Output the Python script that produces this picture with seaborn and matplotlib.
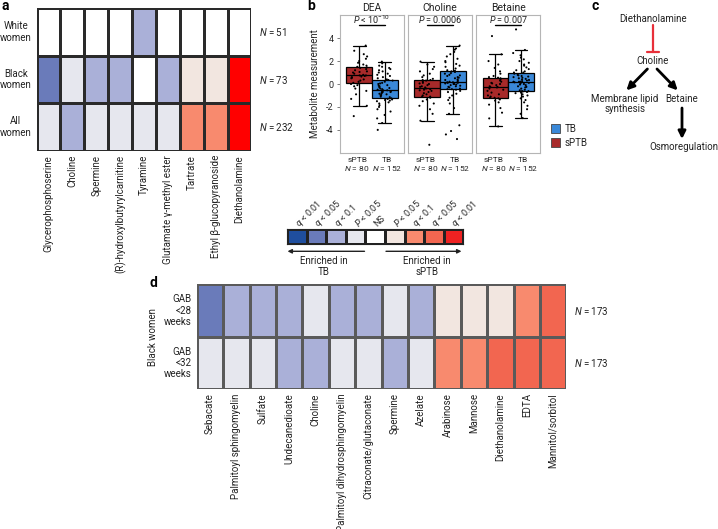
import numpy as np
import pandas as pd
import seaborn as sns
import matplotlib.pyplot as plt
from matplotlib.colors import ListedColormap
from matplotlib.patches import Patch

W, H = 718, 529

# significance levels shared by heatmaps and the key
levels = [r"$q$ < 0.01", r"$q$ < 0.05", r"$q$ < 0.1", r"$P$ < 0.05", "NS",
          r"$P$ < 0.05", r"$q$ < 0.1", r"$q$ < 0.05", r"$q$ < 0.01"]
level_codes = [-4, -3, -2, -1, 0, 1, 2, 3, 4]
level_colors = ["#1f4e9e", "#6a7bba", "#aab0d8", "#e6e7ee", "#ffffff",
                "#f2e6e0", "#f88a6e", "#f26650", "#ee2222"]

# panel a
a_metabolites = ["Glycerophosphoserine", "Choline", "Spermine",
                 "(R)-hydroxylbutyrylcarnitine", "Tyramine",
                 "Glutamate γ-methyl ester", "Tartrate",
                 "Ethyl β-glucopyranoside", "Diethanolamine"]
a_groups = ["White\nwomen", "Black\nwomen", "All\nwomen"]
a_white = [0, 0, 0, 0, -2, 0, 0, 0, 0]
a_black = [-3, -1, -2, -2, 0, -2, 1, 1, 4]
a_all = [-1, -2, -1, -1, -1, -1, 2, 2, 4]
a_n = [51, 73, 232]

# panel b
b_metabolites = ["DEA", "Choline", "Betaine"]
b_groups = ["sPTB", "TB"]
b_n = {"sPTB": 80, "TB": 152}
b_pvals = [r"$P$ < 10$^{-10}$", r"$P$ = 0.0006", r"$P$ = 0.007"]
dea_sptb = [-2.8, -1.9, -1.3, -0.9, -0.6, -0.4, -0.2, -0.1, 0.0, 0.05, 0.1, 0.2,
            0.3, 0.4, 0.5, 0.55, 0.6, 0.65, 0.7, 0.75, 0.75, 0.8, 0.9, 1.0, 1.05,
            1.1, 1.2, 1.3, 1.4, 1.45, 1.5, 1.6, 1.7, 1.85, 2.0, 2.2, 2.4, 2.6,
            2.9, 3.35]
dea_tb = [-4.0, -3.4, -3.0, -2.7, -2.4, -2.2, -2.0, -1.85, -1.7, -1.6, -1.5,
          -1.45, -1.4, -1.35, -1.3, -1.25, -1.15, -1.1, -1.0, -0.95, -0.9, -0.85,
          -0.8, -0.75, -0.7, -0.7, -0.65, -0.6, -0.6, -0.55, -0.55, -0.5, -0.45,
          -0.4, -0.35, -0.3, -0.2, -0.15, -0.1, 0.0, 0.05, 0.1, 0.2, 0.3, 0.35,
          0.4, 0.5, 0.6, 0.7, 0.8, 0.9, 1.0, 1.1, 1.2, 1.3, 1.4, 1.5, 1.6, 1.8,
          1.95]
cho_sptb = [-5.3, -3.2, -2.6, -2.2, -1.9, -1.7, -1.5, -1.35, -1.2, -1.1, -1.1,
            -1.0, -0.9, -0.8, -0.7, -0.6, -0.55, -0.5, -0.45, -0.4, -0.3, -0.25,
            -0.2, -0.1, 0.0, 0.05, 0.1, 0.2, 0.3, 0.35, 0.35, 0.45, 0.6, 0.75,
            0.9, 1.1, 1.3, 1.5, 1.7, 1.95]
cho_tb = [-4.8, -4.4, -4.1, -3.6, -2.6, -2.1, -1.7, -1.4, -1.2, -1.0, -0.85,
          -0.7, -0.6, -0.5, -0.45, -0.45, -0.4, -0.3, -0.25, -0.2, -0.15, -0.1,
          -0.05, 0.0, 0.0, 0.05, 0.1, 0.1, 0.15, 0.15, 0.2, 0.2, 0.3, 0.35, 0.4,
          0.5, 0.55, 0.6, 0.7, 0.75, 0.8, 0.9, 0.95, 1.05, 1.1, 1.15, 1.2, 1.35,
          1.5, 1.6, 1.75, 1.9, 2.0, 2.2, 2.4, 2.6, 2.8, 3.0, 3.1, 3.35]
bet_sptb = [-3.7, -3.0, -2.5, -2.1, -1.8, -1.6, -1.45, -1.35, -1.25, -1.2, -1.2,
            -1.1, -1.0, -0.9, -0.75, -0.6, -0.5, -0.4, -0.3, -0.26, -0.26, -0.2,
            -0.1, 0.0, 0.05, 0.1, 0.2, 0.3, 0.4, 0.5, 0.55, 0.6, 0.7, 0.9, 1.1,
            1.4, 1.7, 2.0, 2.59, 4.18]
bet_tb = [-2.97, -2.6, -2.2, -1.9, -1.6, -1.4, -1.25, -1.1, -1.0, -0.9, -0.8,
          -0.75, -0.7, -0.65, -0.62, -0.62, -0.55, -0.5, -0.4, -0.3, -0.25, -0.2,
          -0.1, -0.05, 0.0, 0.05, 0.1, 0.15, 0.2, 0.2, 0.2, 0.25, 0.3, 0.35, 0.4,
          0.45, 0.5, 0.55, 0.6, 0.65, 0.7, 0.75, 0.8, 0.9, 1.0, 1.0, 1.1, 1.2,
          1.3, 1.45, 1.6, 1.7, 1.85, 2.0, 2.15, 2.3, 2.5, 2.7, 2.97, 4.76]
box_colors = {"sPTB": "#a82a2a", "TB": "#3a88d8"}

# panel d
d_metabolites = ["Sebacate", "Palmitoyl sphingomyelin", "Sulfate",
                 "Undecanedioate", "Choline", "Palmitoyl dihydrosphingomyelin",
                 "Citraconate/glutaconate", "Spermine", "Azelate", "Arabinose",
                 "Mannose", "Diethanolamine", "EDTA", "Mannitol/sorbitol"]
d_rows = ["GAB\n<28\nweeks", "GAB\n<32\nweeks"]
d_gab28 = [-3, -2, -2, -2, -1, -2, -2, -1, -2, 1, 1, 1, 2, 3]
d_gab32 = [-1, -1, -1, -2, -2, -1, -1, -2, -1, 2, 2, 3, 3, 3]
d_n = [173, 173]

sns.set_theme(style="white")
plt.rcParams["font.family"] = ["Roboto", "DejaVu Sans"]
plt.rcParams["mathtext.fontset"] = "custom"
plt.rcParams["mathtext.rm"] = "Roboto"
plt.rcParams["mathtext.it"] = "Roboto:italic"
plt.rcParams["axes.unicode_minus"] = False
plt.rcParams["text.color"] = "#222222"


def px(x0, y0, x1, y1):
    return [x0 / W, 1 - y1 / H, (x1 - x0) / W, (y1 - y0) / H]


fig = plt.figure(figsize=(W / 100, H / 100), dpi=100)
cmap = ListedColormap(level_colors)
cmap_a = ListedColormap(level_colors[:-1] + ["#ff0000"])

# ---- a ----
ax_a = fig.add_axes(px(36.6, 8.4, 251.4, 150.8))
df_a = pd.DataFrame([a_white, a_black, a_all], index=a_groups, columns=a_metabolites)
sns.heatmap(df_a, cmap=cmap_a, vmin=-4.5, vmax=4.5, cbar=False,
            linewidths=0.8, linecolor="#2a2a2a", ax=ax_a)
ax_a.set_xlabel("")
ax_a.set_ylabel("")
ax_a.tick_params(axis="both", length=0, labelsize=7, colors="#222222")
ax_a.tick_params(axis="y", pad=15)
ax_a.tick_params(axis="x", pad=3)
plt.setp(ax_a.get_yticklabels(), rotation=0, ha="center", multialignment="center")
plt.setp(ax_a.get_xticklabels(), rotation=90)
for i, n in enumerate(a_n):
    ax_a.text(1.034, i + 0.5, f"$N$ = {n}", transform=ax_a.get_yaxis_transform(),
              ha="left", va="center", fontsize=7)

# ---- b ----
rows = []
for m, g, vals in [("DEA", "sPTB", dea_sptb), ("DEA", "TB", dea_tb),
                   ("Choline", "sPTB", cho_sptb), ("Choline", "TB", cho_tb),
                   ("Betaine", "sPTB", bet_sptb), ("Betaine", "TB", bet_tb)]:
    rows += [(m, g, v) for v in vals]
df_b = pd.DataFrame(rows, columns=["metabolite", "group", "value"])

b_boxes = [(339.7, 404.3), (408.0, 472.0), (476.2, 540.3)]
for k, (m, (x0, x1)) in enumerate(zip(b_metabolites, b_boxes)):
    ax = fig.add_axes(px(x0, 15.2, x1, 152.8))
    sub = df_b[df_b["metabolite"] == m]
    sns.boxplot(data=sub, x="metabolite", y="value", hue="group", hue_order=b_groups,
                palette=box_colors, width=0.8, saturation=1, showfliers=False,
                linecolor="black", linewidth=0.9, legend=False, ax=ax)
    sns.stripplot(data=sub, x="metabolite", y="value", hue="group", hue_order=b_groups,
                  palette={"sPTB": "black", "TB": "black"}, dodge=True, jitter=0.25,
                  size=1.5, legend=False, ax=ax)
    ax.set_xlim(-0.5, 0.5)
    ax.set_ylim(-6, 6)
    ax.set_xticks([-0.23, 0.23])
    ax.set_xticklabels([f"{g}\n$N$ = {b_n[g]}" for g in b_groups])
    ax.tick_params(axis="x", length=0, labelsize=6, pad=3)
    ax.set_xlabel("")
    ax.set_title(m, fontsize=7.5, pad=3)
    for s in ax.spines.values():
        s.set_visible(True)
        s.set_color("#b5b5b5")
        s.set_linewidth(0.8)
    if k == 0:
        ax.set_yticks([-4, -2, 0, 2, 4])
        ax.tick_params(axis="y", left=True, length=2.5, width=0.6, labelsize=6.5, pad=2,
                       color="#666666")
        ax.set_ylabel("Metabolite measurement", fontsize=7, labelpad=4)
    else:
        ax.set_yticks([])
        ax.set_ylabel("")
    ax.plot([-0.2, 0.2], [5.15, 5.15], color="black", lw=1)
    ax.text(0, 5.6, b_pvals[k], ha="center", va="center", fontsize=6.5)

fig.legend(handles=[Patch(facecolor=box_colors[g], edgecolor="#444444", lw=0.6) for g in ["TB", "sPTB"]],
           labels=["TB", "sPTB"], loc="upper left", bbox_to_anchor=(546 / W, 1 - 119 / H),
           frameon=False, fontsize=7, handlelength=0.9, handleheight=1.0,
           handletextpad=0.5, labelspacing=0.4, borderpad=0)

# ---- key ----
ax_cb = fig.add_axes(px(287.3, 229.4, 463.2, 244.3))
sns.heatmap(pd.DataFrame([level_codes], columns=levels), cmap=cmap, vmin=-4.5, vmax=4.5,
            cbar=False, linewidths=0.8, linecolor="#222222", yticklabels=False, ax=ax_cb)
ax_cb.xaxis.tick_top()
ax_cb.tick_params(axis="x", length=0, labelsize=6.5, pad=3)
plt.setp(ax_cb.get_xticklabels(), rotation=45, ha="left", va="center", rotation_mode="anchor")
for s in ax_cb.spines.values():
    s.set_visible(True)
    s.set_color("#222222")
    s.set_linewidth(0.8)

# ---- d ----
ax_d = fig.add_axes(px(196.9, 284.4, 566.4, 389.0))
df_d = pd.DataFrame([d_gab28, d_gab32], index=d_rows, columns=d_metabolites)
sns.heatmap(df_d, cmap=cmap, vmin=-4.5, vmax=4.5, cbar=False,
            linewidths=0.8, linecolor="#5a5a5a", ax=ax_d)
ax_d.set_xlabel("")
ax_d.set_ylabel("")
ax_d.tick_params(axis="both", length=0, labelsize=7, colors="#222222")
ax_d.tick_params(axis="y", pad=4)
ax_d.tick_params(axis="x", pad=3)
plt.setp(ax_d.get_yticklabels(), rotation=0, ha="right", multialignment="right",
         linespacing=1.15)
plt.setp(ax_d.get_xticklabels(), rotation=90)
ax_d.text(-0.1177, 0.5, "Black women", transform=ax_d.transAxes, rotation=90,
          ha="center", va="center", fontsize=7)
for i, n in enumerate(d_n):
    ax_d.text(1.02, i + 0.5, f"$N$ = {n}", transform=ax_d.get_yaxis_transform(),
              ha="left", va="center", fontsize=7)

# ---- overlay: letters, pathway (c), key arrows ----
ov = fig.add_axes([0, 0, 1, 1])
ov.set_xlim(0, W)
ov.set_ylim(H, 0)
ov.axis("off")
ov.patch.set_alpha(0)
for letter, x, y in [("a", 1, 6), ("b", 307, 6), ("c", 591, 6), ("d", 150, 283)]:
    ov.text(x, y, letter, fontsize=10, fontweight="bold", ha="left", va="center", color="black")

ov.text(653.5, 19.2, "Diethanolamine", ha="center", va="center", fontsize=7)
ov.plot([652.5, 652.5], [25, 52], color="#e8303a", lw=1.6)
ov.plot([646.5, 658.5], [52, 52], color="#e8303a", lw=1.6)
ov.text(653, 61, "Choline", ha="center", va="center", fontsize=7)
arrow_kw = dict(arrowstyle="-|>", color="black", lw=2, mutation_scale=11, shrinkA=0, shrinkB=0)
ov.annotate("", xy=(626.4, 90.4), xytext=(647.4, 69), arrowprops=arrow_kw)
ov.annotate("", xy=(677.7, 90.4), xytext=(657, 69), arrowprops=arrow_kw)
ov.text(625, 98.5, "Membrane lipid", ha="center", va="center", fontsize=7)
ov.text(625, 109, "synthesis", ha="center", va="center", fontsize=7)
ov.text(682, 98.5, "Betaine", ha="center", va="center", fontsize=7)
ov.annotate("", xy=(682, 139), xytext=(682, 108), arrowprops=arrow_kw)
ov.text(683.5, 147, "Osmoregulation", ha="center", va="center", fontsize=7)

thin_kw = dict(arrowstyle="-|>", color="#222222", lw=1, mutation_scale=6, shrinkA=0, shrinkB=0)
ov.annotate("", xy=(287.5, 251.3), xytext=(364.5, 251.3), arrowprops=thin_kw)
ov.annotate("", xy=(461.5, 251.3), xytext=(386, 251.3), arrowprops=thin_kw)
ov.text(323.7, 266.5, "Enriched in\nTB", ha="center", va="center", fontsize=7,
        linespacing=1.2)
ov.text(427, 266.5, "Enriched in\nsPTB", ha="center", va="center", fontsize=7,
        linespacing=1.2)

fig.savefig("out.png", dpi=100)
